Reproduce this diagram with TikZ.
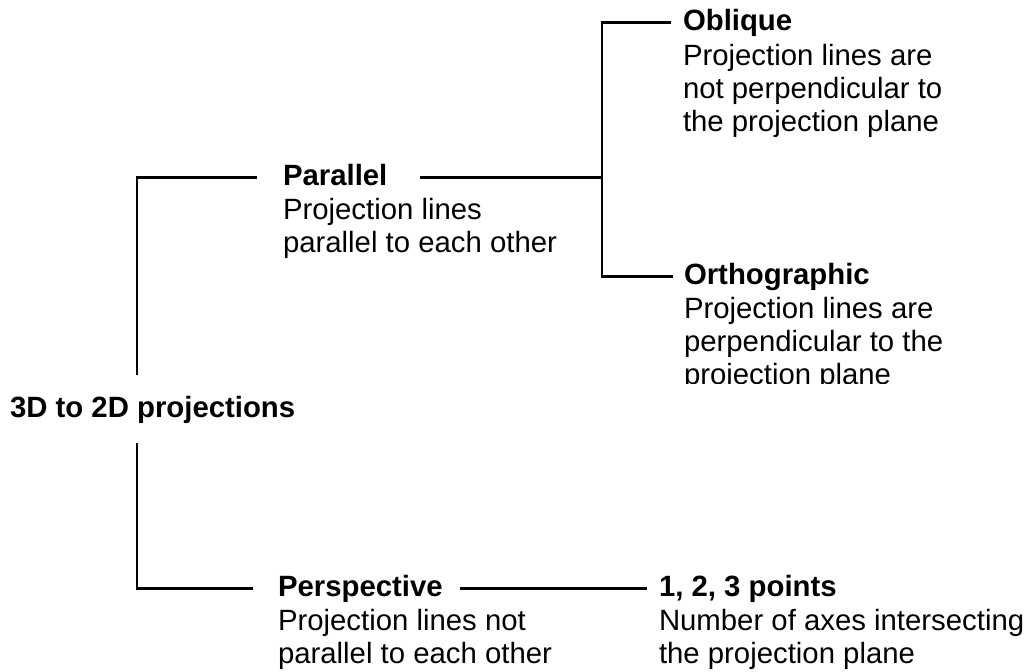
\documentclass[tikz,border=0pt]{standalone}
\usepackage{fontspec}
\setmainfont{Liberation Sans}
\usetikzlibrary{calc}

\begin{document}
\begin{tikzpicture}[
  x=0.75pt, y=-0.75pt,
  every node/.style={inner sep=0pt, outer sep=0pt, anchor=base west,
    font=\fontsize{22}{25.1}\selectfont},
  ttl/.style={font=\fontsize{22}{25.1}\selectfont\bfseries,
    text height=15.75pt, text depth=4.5pt},
  desc/.style={},
  conn/.style={line width=1.8pt, line cap=butt, line join=miter}
]
\useasboundingbox (0,0) rectangle (1024,671);

% branch points of the tree
\coordinate (trunk) at (137,0);
\coordinate (split) at (602,0);

% headings
\node[ttl] (root)  at (10,417)  {3D to 2D projections};
\node[ttl] (par)   at (283,185) {Parallel};
\node[ttl] (obl)   at (683,30)  {Oblique};
\node[ttl] (ortho) at (684,284) {Orthographic};
\node[ttl] (persp) at (278,596) {Perspective};
\node[ttl] (pts)   at (659,596) {1, 2, 3 points};

% descriptions under the headings
\node[desc] (pard) at ($(par.base west)+(0,34)$)
  {\vtop{\hbox{Projection lines}\hbox{parallel to each other}}};
\node[desc] (obld) at ($(obl.base west)+(0,35)$)
  {\vtop{\hbox{Projection lines are}\hbox{not perpendicular to}\hbox{the projection plane}}};
\begin{scope}
  \clip (0,0) rectangle (1024,383);
  \node[desc] (orthod) at ($(ortho.base west)+(0,34)$)
    {\vtop{\hbox{Projection lines are}\hbox{perpendicular to the}\hbox{projection plane}}};
\end{scope}
\node[desc] (perspd) at ($(persp.base west)+(0,34)$)
  {\vtop{\hbox{Projection lines not}\hbox{parallel to each other}}};
\node[desc] (ptsd) at ($(pts.base west)+(0,34)$)
  {\vtop{\hbox{Number of axes intersecting}\hbox{the projection plane}}};

% connectors
\draw[conn] ($(root.north -| trunk)+(0,-21)$) |- ($(par.west)+(-26,0)$);
\draw[conn] ($(root.south -| trunk)+(0,20)$) |- ($(persp.west)+(-25,0)$);
\draw[conn] ($(par.east)+(33,0)$) -- (par.east -| split);
\draw[conn] ($(obl.west)+(-12,0)$) -| (ortho.west -| split) -- ($(ortho.west)+(-11,0)$);
\draw[conn] ($(persp.east)+(17,0)$) -- ($(pts.west)+(-12,0)$);
\end{tikzpicture}
\end{document}
